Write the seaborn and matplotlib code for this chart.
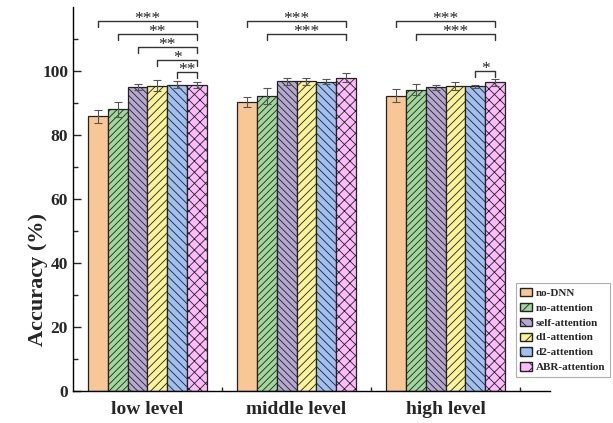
import matplotlib.pyplot as plt
import matplotlib.patches as mpatches
import pandas as pd
import numpy as np
import seaborn as sns

sns.set_style("ticks")
plt.rcParams['font.family'] = ['Liberation Serif', 'DejaVu Serif']
plt.rcParams['font.weight'] = 'bold'
plt.rcParams['hatch.linewidth'] = 0.6

# data
levels = ['low level', 'middle level', 'high level']
models = ['no-DNN', 'no-attention', 'self-attention', 'd1-attention', 'd2-attention', 'ABR-attention']
acc = {
    'no-DNN':        [85.8, 90.2, 92.2],
    'no-attention':  [88.0, 92.1, 94.1],
    'self-attention':[95.0, 96.7, 94.9],
    'd1-attention':  [95.4, 96.7, 95.3],
    'd2-attention':  [95.6, 96.6, 95.1],
    'ABR-attention': [95.5, 97.9, 96.4],
}
err = {
    'no-DNN':        [2.0, 1.5, 2.0],
    'no-attention':  [2.3, 2.6, 1.8],
    'self-attention':[1.0, 1.1, 0.8],
    'd1-attention':  [1.6, 1.1, 1.2],
    'd2-attention':  [1.1, 0.7, 0.5],
    'ABR-attention': [0.9, 1.4, 1.0],
}
colors = ['#F9C796', '#A0D79B', '#B7A8D2', '#FAF39A', '#A0C0F2', '#FDBBF9']
hatches = ['', '/////', '\\\\\\\\\\', '////', '\\\\\\\\', 'xxx']

# significance brackets: (group, from model index, to model index, bracket level, label)
sig = [
    (0, 0, 5, 115.5, '***'), (0, 1, 5, 111.5, '**'), (0, 2, 5, 107.5, '**'),
    (0, 3, 5, 103.3, '*'), (0, 4, 5, 99.6, '**'),
    (1, 0, 5, 115.5, '***'), (1, 1, 5, 111.5, '***'),
    (2, 0, 5, 115.5, '***'), (2, 1, 5, 111.5, '***'), (2, 4, 5, 100.0, '*'),
]

rows = []
for m in models:
    for i, lv in enumerate(levels):
        rows.append({'level': lv, 'model': m, 'acc': acc[m][i], 'err': err[m][i]})
df = pd.DataFrame(rows)

fig = plt.figure(figsize=(6.13, 4.23), dpi=100)
ax = fig.add_axes([0.119, 0.076, 0.778, 0.908])

sns.barplot(data=df, x='level', y='acc', hue='model', hue_order=models, order=levels,
            palette=colors, saturation=1, edgecolor='black', linewidth=0.9, width=0.8,
            errorbar=None, legend=False, ax=ax)

bar_groups = list(ax.containers)
centers = {}
for k, cont in enumerate(bar_groups):
    for j, bar in enumerate(cont):
        bar.set_hatch(hatches[k])
        bar.set_edgecolor('#222222')
        cx = bar.get_x() + bar.get_width() / 2
        centers[(j, k)] = cx
        ax.errorbar(cx, bar.get_height(), yerr=err[models[k]][j], fmt='none',
                    ecolor='#555555', elinewidth=0.8, capsize=3, capthick=0.8, zorder=5)

drop = 1.8
for g, a, b, yl, lab in sig:
    x1, x2 = centers[(g, a)], centers[(g, b)]
    ax.plot([x1, x1, x2, x2], [yl - drop, yl, yl, yl - drop], color='#333333', lw=1.0)
    ax.text((x1 + x2) / 2, yl - 0.6, lab, ha='center', va='baseline', fontsize=12.5,
            fontweight='normal', color='#222222')

ax.set_xlim(-0.5, 2.7)
ax.set_ylim(0, 120)
ax.set_yticks([0, 20, 40, 60, 80, 100])
ax.set_yticks(np.arange(10, 120, 20), minor=True)
ax.set_xticks([0, 1, 2])
ax.set_xticks([0.5, 1.5, 2.5], minor=True)
ax.tick_params(axis='y', which='major', direction='in', length=6, width=1, labelsize=12.5)
ax.tick_params(axis='y', which='minor', direction='in', length=3.5, width=1)
ax.tick_params(axis='x', which='major', length=0, labelsize=14, pad=7)
ax.tick_params(axis='x', which='minor', direction='in', length=3, width=1)
for lab in ax.get_xticklabels() + ax.get_yticklabels():
    lab.set_fontweight('bold')
ax.set_xlabel('')
ax.set_ylabel('Accuracy (%)', fontsize=16, fontweight='bold')
ax.yaxis.set_label_coords(-0.052, 0.29)
sns.despine(ax=ax)
for s in ['left', 'bottom']:
    ax.spines[s].set_linewidth(1.0)
    ax.spines[s].set_color('black')

handles = [mpatches.Patch(facecolor=c, edgecolor='#222222', hatch=h, label=m)
           for c, h, m in zip(colors, ['', '///', '\\\\\\', '//', '\\\\', 'xx'], models)]
leg = fig.legend(handles=handles, loc='lower right', bbox_to_anchor=(0.998, 0.104),
                 bbox_transform=fig.transFigure, frameon=True, fancybox=False,
                 handlelength=1.1, handleheight=0.75, handletextpad=0.3, labelspacing=0.45,
                 borderpad=0.4, borderaxespad=0.2, prop={'weight': 'bold', 'size': 8})
leg.get_frame().set_edgecolor('#999999')
leg.get_frame().set_linewidth(0.8)

fig.savefig('out.png', dpi=100)
